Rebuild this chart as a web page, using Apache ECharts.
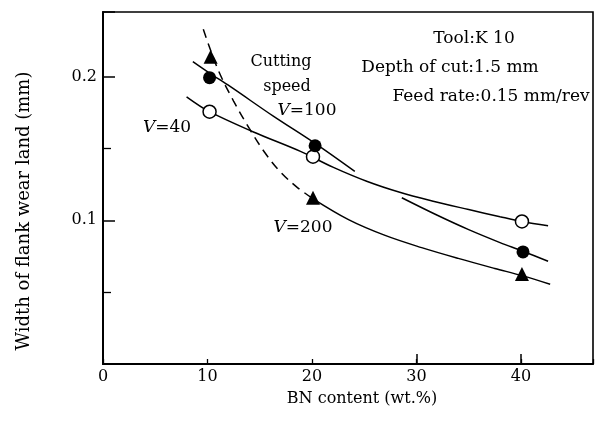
<!DOCTYPE html>
<html>
<head>
<meta charset="utf-8">
<script src="https://cdn.jsdelivr.net/npm/echarts@6/dist/echarts.min.js"></script>
<style>
html,body{margin:0;padding:0;background:#fff;}
#chart{width:596px;height:422px;}
</style>
</head>
<body>
<div id="chart"></div>
<script>
// ---- data ----
const xTickValues = [0, 10, 20, 30, 40];
const yTickLabels = [0.1, 0.2];

// measured points (BN content wt.%, flank wear width mm)
const v40Points  = [[10.2, 0.1756], [20.1, 0.1443], [40.1, 0.0992]];
const v100Points = [[10.2, 0.1993], [20.3, 0.1519], [40.2, 0.0780]];
const v200Points = [[10.3, 0.2139], [20.1, 0.1157], [40.1, 0.0627]];

// fitted curves
const v40Curve = [[8.0, 0.186], [10.2, 0.1756], [14.4, 0.1615], [18.9, 0.148], [22.0, 0.137],
  [25.3, 0.127], [28.4, 0.1195], [31.5, 0.1135], [35.0, 0.1075], [38.0, 0.1025], [40.1, 0.0992], [42.6, 0.0962]];
const v100CurveA = [[8.6, 0.2105], [10.2, 0.2025], [12.2, 0.193], [16.3, 0.1725], [20.3, 0.1535], [24.1, 0.134]];
const v100CurveB = [[28.6, 0.1157], [32.0, 0.1035], [35.0, 0.0935], [38.0, 0.0845], [40.2, 0.0785], [42.6, 0.0715]];
const v200Dashed = [[9.6, 0.233], [11.0, 0.205], [12.5, 0.183], [14.0, 0.164], [15.5, 0.147],
  [17.0, 0.1335], [18.5, 0.1235], [20.0, 0.1155]];
const v200Solid = [[20.0, 0.1155], [23.5, 0.1005], [27.0, 0.0895], [30.5, 0.081], [34.0, 0.0735],
  [37.5, 0.0665], [40.1, 0.0615], [42.8, 0.0555]];

const xName = 'BN content (wt.%)';
const yName = 'Width of flank wear land (mm)';
const notes = ['Tool:K 10', 'Depth of cut:1.5 mm', 'Feed rate:0.15 mm/rev'];
const curveLabels = ['Cutting', 'speed', '{i|V}=100', '{i|V}=40', '{i|V}=200'];

// ---- chart ----
const FONT = '"DejaVu Serif", "Liberation Serif", serif';
const INK = '#000';
const chart = echarts.init(document.getElementById('chart'), null, {renderer: 'canvas'});

function curve(data, dashed) {
  return {
    type: 'line', data: data, symbol: 'none', smooth: 0.35, silent: true, z: 2,
    lineStyle: {color: INK, width: 1.5, type: dashed ? [9, 6] : 'solid'}
  };
}
function marks(data, symbol, filled, size) {
  return {
    type: 'scatter', data: data, symbol: symbol, symbolSize: size, z: 5, silent: true,
    itemStyle: {color: filled ? INK : '#fff', borderColor: INK, borderWidth: filled ? 0 : 1.5, opacity: 1}
  };
}
const italic = {i: {fontStyle: 'italic', fontFamily: FONT, fontSize: 17, fill: INK}};
function txt(text, x, y, size, rich) {
  return {
    type: 'text', x: x, y: y, silent: true,
    style: {text: text, fill: INK, font: size + 'px ' + FONT, align: 'center', verticalAlign: 'middle', rich: rich || undefined}
  };
}

chart.setOption({
  animation: false,
  backgroundColor: '#fff',
  grid: {left: 103, right: 3, top: 12, bottom: 58, show: true, borderColor: INK, borderWidth: 1.6},
  xAxis: [{
    type: 'value', min: 0, max: 46.9, interval: 10,
    axisLine: {lineStyle: {color: INK, width: 2}},
    axisTick: {inside: true, length: 5, lineStyle: {color: INK, width: 1.3}},
    axisLabel: {customValues: xTickValues, color: INK, fontFamily: FONT, fontSize: 16, margin: 5},
    splitLine: {show: false}
  }, {
    type: 'value', min: 0, max: 46.9, position: 'bottom',
    axisLine: {show: false},
    axisTick: {show: true, inside: true, length: 10, customValues: xTickValues.slice(3), lineStyle: {color: INK, width: 1.5}},
    axisLabel: {show: false},
    splitLine: {show: false}
  }],
  yAxis: {
    type: 'value', min: 0, max: 0.245, interval: 0.1,
    axisLine: {lineStyle: {color: INK, width: 2}},
    axisTick: {inside: true, length: 12, lineStyle: {color: INK, width: 1.5}},
    minorTick: {show: true, splitNumber: 2, length: 8, lineStyle: {color: INK, width: 1.3}},
    axisLabel: {customValues: yTickLabels, color: INK, fontFamily: FONT, fontSize: 16, margin: 6,
      formatter: v => v.toFixed(1)},
    splitLine: {show: false}
  },
  series: [
    curve(v40Curve), curve(v100CurveA), curve(v100CurveB), curve(v200Dashed, true), curve(v200Solid),
    marks(v40Points, 'circle', false, 13),
    marks(v100Points, 'circle', true, 13),
    marks(v200Points, 'triangle', true, 14)
  ],
  graphic: [
    txt(notes[0], 474, 39, 17),
    txt(notes[1], 450, 68, 17),
    txt(notes[2], 491, 97, 17),
    txt(curveLabels[0], 281, 62, 16),
    txt(curveLabels[1], 287, 87, 16),
    txt(curveLabels[2], 307, 111, 17, italic),
    txt(curveLabels[3], 167, 128, 17, italic),
    txt(curveLabels[4], 303, 228, 17, italic),
    txt(xName, 362, 399, 16),
    Object.assign(txt(yName, 24, 211, 18), {rotation: Math.PI / 2})
  ]
});
</script>
</body>
</html>
